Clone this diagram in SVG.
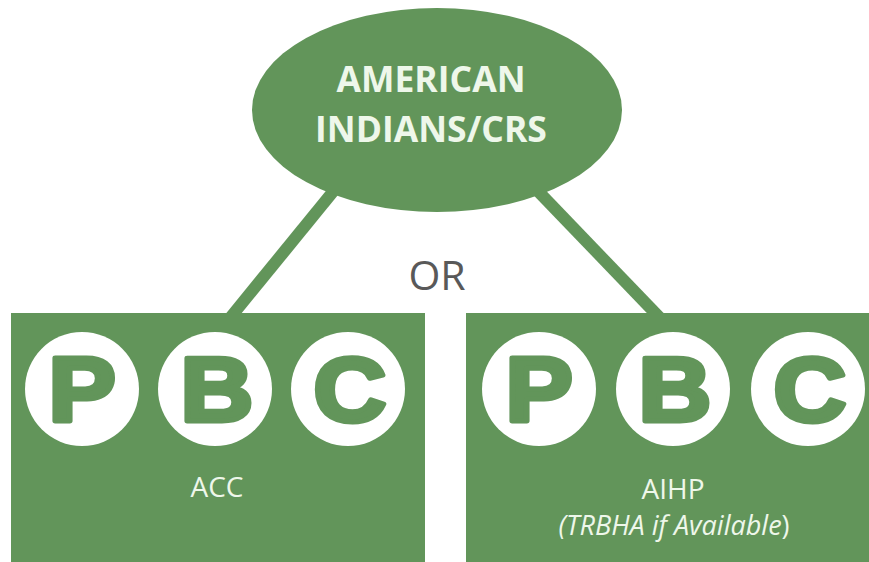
<svg xmlns="http://www.w3.org/2000/svg" width="869" height="562" viewBox="0 0 869 562">
<style>
.g{fill:#62955a}
.lt{fill:#eef7ea;font-family:"Open Sans","Liberation Sans",sans-serif}
.hd{font-weight:bold;font-size:35.5px}
.lb{font-size:28px}
.circ{fill:#ffffff}
.let{fill:#62955a;stroke:#62955a;stroke-width:5;stroke-linejoin:round;font-family:"Liberation Sans",Arial,sans-serif;font-weight:bold;font-size:90px}
</style>
<rect width="869" height="562" fill="#ffffff"/>
<g id="connectors" stroke="#62955a" stroke-width="12" fill="none">
<line x1="336" y1="188" x2="230" y2="318"/>
<line x1="535" y1="188" x2="660" y2="318"/>
</g>
<g id="root">
<ellipse class="g" cx="437" cy="110" rx="185" ry="102"/>
<text class="lt hd" x="431" y="92" text-anchor="middle">AMERICAN</text>
<text class="lt hd" x="431" y="142" text-anchor="middle">INDIANS/CRS</text>
</g>
<text id="or" x="437" y="290" text-anchor="middle" font-family="Open Sans, Liberation Sans, sans-serif" font-size="41" fill="#595959">OR</text>
<g id="acc">
<rect class="g" x="11" y="313" width="414" height="260"/>
<circle class="circ" cx="82" cy="389" r="57"/>
<circle class="circ" cx="215" cy="389" r="57"/>
<circle class="circ" cx="348" cy="389" r="57"/>
<text class="let" transform="translate(82,421) scale(1.12,1)" text-anchor="middle">P</text>
<text class="let" transform="translate(217,421) scale(1.12,1)" text-anchor="middle">B</text>
<text class="let" transform="translate(350,421) scale(1.12,1)" text-anchor="middle">C</text>
<text class="lt lb" x="217" y="497" text-anchor="middle">ACC</text>
</g>
<g id="aihp">
<rect class="g" x="466" y="313" width="410" height="260"/>
<circle class="circ" cx="539" cy="389" r="57"/>
<circle class="circ" cx="673" cy="389" r="57"/>
<circle class="circ" cx="808" cy="389" r="57"/>
<text class="let" transform="translate(539,421) scale(1.12,1)" text-anchor="middle">P</text>
<text class="let" transform="translate(675,421) scale(1.12,1)" text-anchor="middle">B</text>
<text class="let" transform="translate(810,421) scale(1.12,1)" text-anchor="middle">C</text>
<text class="lt lb" x="673" y="499" text-anchor="middle">AIHP</text>
<text class="lt" x="674" y="535" text-anchor="middle" font-size="27"><tspan font-style="italic">(TRBHA if Available</tspan>)</text>
</g>
</svg>
